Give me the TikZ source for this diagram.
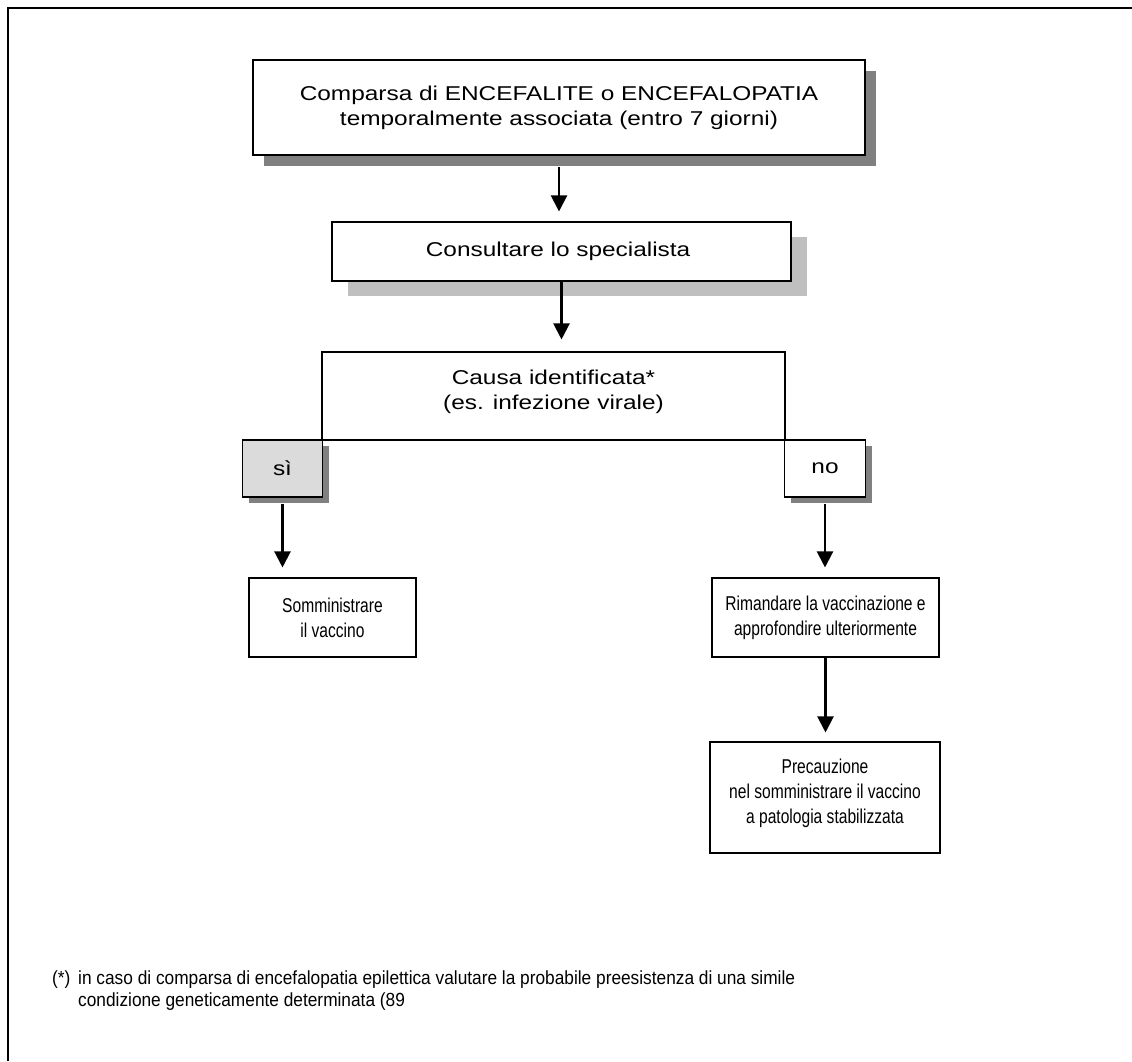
\documentclass[tikz,border=0pt]{standalone}
\usepackage{fontspec}
\setmainfont{Liberation Sans}
\newfontfamily\widefont{Liberation Sans}[FakeStretch=1.22]
\newfontfamily\narrowfont{Liberation Sans}[FakeStretch=0.78]
\newfontfamily\notefont{Liberation Sans}[FakeStretch=0.91]
\usetikzlibrary{arrows.meta,shadows}

\begin{document}
\begin{tikzpicture}[x=1pt, y=-1pt,
        box/.style={rectangle, draw, line width=1.1pt, fill=white, align=center, inner sep=0pt,
            font=\widefont\fontsize{20}{25}\selectfont},
        lowbox/.style={box, font=\narrowfont\fontsize{20}{25}\selectfont},
        darkshadow/.style={drop shadow={shadow xshift=#1, shadow yshift=-#1, fill=black!50, opacity=1}},
        flow/.style={-{Triangle[width=16pt,length=16pt]}, line width=2.2pt}]
            \useasboundingbox (0,0) rectangle (1132,1061);
            \draw[line width=2.4pt] (8,1061) -- (8,8) -- (1132,8);

            \node[box, darkshadow=11pt, minimum width=612pt, minimum height=95pt] (onset) at (559,107.5) {
                Comparsa di ENCEFALITE o ENCEFALOPATIA\\temporalmente associata (entro 7 giorni)
            };

            \node[box, drop shadow={shadow xshift=16pt, shadow yshift=-15pt, fill=black!25, opacity=1},
                minimum width=459pt, minimum height=59pt] (consult) at (561.5,251.5) {
                Consultare lo specialista
            };

            \node[box, minimum width=463pt, minimum height=88pt] (cause) at (553.5,396) {
                Causa identificata*\\(es. infezione virale)\\[-12pt]
            };

            \node[box, darkshadow=6pt, fill=black!14, minimum width=80pt, minimum height=57pt] (yes) at (282.5,468.5) {sì};

            \node[box, darkshadow=6pt, minimum width=81pt, minimum height=57pt] (no) at (825,468.5) {no};

            \node[lowbox, minimum width=167pt, minimum height=79pt] (give) at (332.5,617.5) {
                Somministrare\\il vaccino
            };

            \node[lowbox, minimum width=227pt, minimum height=79pt] (delay) at (825.5,617.5) {
                Rimandare la vaccinazione e\\approfondire ulteriormente
            };

            \node[lowbox, minimum width=230pt, minimum height=111pt] (caution) at (825,797.5) {
                Precauzione\\nel somministrare il vaccino\\a patologia stabilizzata\\[-12pt]
            };

            \draw[flow, shorten <=11pt, shorten >=10pt] (onset.south) -- (onset.south |- consult.north);
            \draw[flow, shorten >=12pt] (consult.south) -- (consult.south |- cause.north);
            \draw[flow, shorten <=6pt, shorten >=10pt] (yes.south) -- (yes.south |- give.north);
            \draw[flow, shorten <=6pt, shorten >=10pt] (no.south) -- (no.south |- delay.north);
            \draw[flow, shorten >=9pt] (delay.south) -- (delay.south |- caution.north);

            \node[anchor=base west, inner sep=0pt, font=\notefont\fontsize{19}{22}\selectfont] (star) at (52,984) {(*)};
            \node[anchor=base west, inner sep=0pt, align=left, font=\notefont\fontsize{19}{22}\selectfont] (note) at (78,1006) {
                in caso di comparsa di encefalopatia epilettica valutare la probabile preesistenza di una simile\\
                condizione geneticamente determinata (89
            };
        \end{tikzpicture}
\end{document}
